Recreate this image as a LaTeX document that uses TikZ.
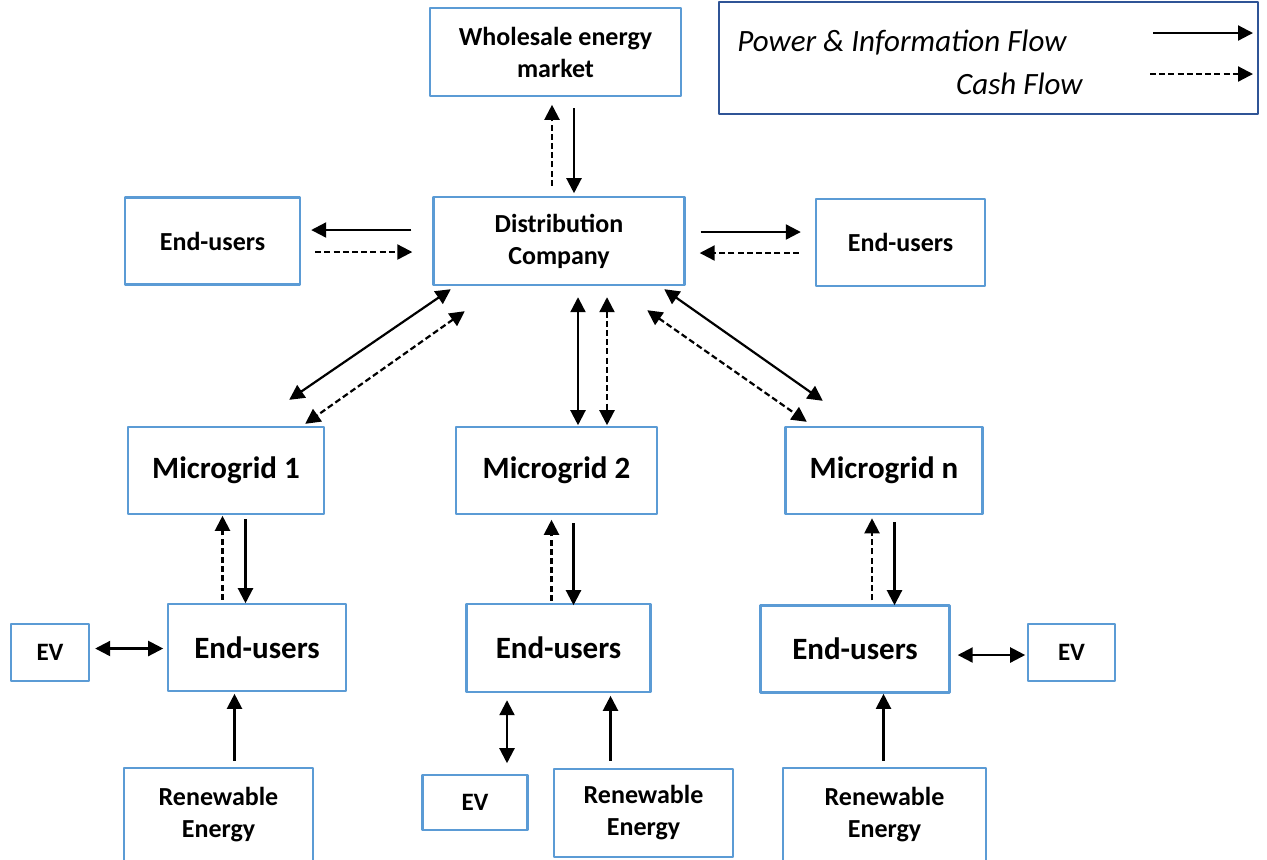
\documentclass[tikz,border=0pt]{standalone}
\usepackage{fontspec}
\setmainfont{Carlito}
\usetikzlibrary{arrows.meta,calc}
\definecolor{boxblue}{RGB}{91,155,213}
\definecolor{legblue}{RGB}{47,84,150}
\begin{document}
\begin{tikzpicture}[x=0.5pt, y=-0.5pt, line join=round, >={Triangle[length=7.5pt,width=7.5pt]},
	box/.style={draw=boxblue, line width=1.2pt, fill=white, align=center, inner sep=0pt, font=\bfseries\fontsize{13}{16}\selectfont},
	bigbox/.style={box, font=\bfseries\fontsize{15.5}{18.6}\selectfont},
	evbox/.style={box, font=\bfseries\fontsize{12.5}{15}\selectfont},
	legtext/.style={inner sep=0pt, font=\itshape\fontsize{15.5}{18.6}\selectfont},
	flow/.style={line width=1.1pt},
	cash/.style={line width=1.1pt, dash pattern=on 3pt off 1.6pt}]
	\useasboundingbox (0,0) rectangle (1267,859);
	% top row
	\node[box, minimum width=125.5pt, minimum height=44pt] (wm) at (555.5,52) {Wholesale energy\\market};
	\node[box, minimum width=125.5pt, minimum height=44pt] (dist) at (559,241) {Distribution\\Company};
	\node[box, minimum width=87.5pt, minimum height=43.5pt] (eua) at (212.5,241) {End-users};
	\node[box, minimum width=84.5pt, minimum height=43.5pt] (eub) at (900.5,242.5) {End-users};
	% legend
	\node[draw=legblue, line width=1pt, minimum width=269.5pt, minimum height=56pt] (lg) at (988.5,58) {};
	\node[legtext, anchor=west] (pif) at (737,43) {Power \& Information Flow};
	\node[legtext, anchor=east] (cf) at (1083,84) {Cash Flow};
	\path (1153,33) coordinate (s1)
		(1253,33) coordinate (s2)
		(1150,74) coordinate (d1)
		(1253,74) coordinate (d2);
	\draw[flow,->] (s1)--(s2);
	\draw[cash,->] (d1)--(d2);
	% microgrids
	\node[bigbox, minimum width=98pt, minimum height=43.5pt] (mg1) at (226,470.5) {Microgrid 1};
	\node[bigbox, minimum width=100.5pt, minimum height=43.5pt] (mg2) at (556.5,470.5) {Microgrid 2};
	\node[bigbox, minimum width=98.5pt, minimum height=43.5pt] (mgn) at (884,470.5) {Microgrid n};
	% end-users, EVs and renewables
	\node[bigbox, minimum width=89pt, minimum height=43.5pt] (eu1) at (257,647.5) {End-users};
	\node[bigbox, minimum width=92pt, minimum height=44pt] (eu2) at (558.5,648) {End-users};
	\node[bigbox, minimum width=94.5pt, minimum height=43.5pt] (eun) at (855,649) {End-users};
	\node[evbox, minimum width=39pt, minimum height=28.5pt] (ev1) at (50,652.5) {EV};
	\node[evbox, minimum width=52.5pt, minimum height=27.5pt] (ev2) at (475,802.5) {EV};
	\node[evbox, minimum width=43.5pt, minimum height=28.5pt] (evn) at (1071.5,652.5) {EV};
	\node[box, minimum width=94.5pt, minimum height=47pt] (re1) at (218.5,815) {Renewable\\Energy};
	\node[box, minimum width=89.5pt, minimum height=44pt] (re2) at (643.5,813) {Renewable\\Energy};
	\node[box, minimum width=101.5pt, minimum height=47pt] (ren) at (884.5,815) {Renewable\\Energy};
	% market and company
	\draw[cash,->] ($(dist.north)+(-7,-10)$) -- ++(0,-81);
	\draw[flow,->] ($(wm.south)+(18.5,11)$) -- ++(0,85);
	\draw[flow,->] ($(dist.west)+(-21,-11)$) -- ($(eua.east)+(10,-11)$);
	\draw[cash,->] ($(eua.east)+(14,11)$) -- ($(dist.west)+(-20,11)$);
	\draw[flow,->] ($(dist.east)+(15,-9)$) -- ($(eub.west)+(-14,-10.5)$);
	\draw[cash,->] ($(eub.west)+(-16,10.5)$) -- ($(dist.east)+(14,12)$);
	% company and microgrids
	\draw[flow,<->] ($(dist.south west)+(18.5,3)$) -- ($(mg1.north east)+(-36,-26)$);
	\draw[cash,<->] ($(dist.south west)+(32.5,25)$) -- ($(mg1.north east)+(-20,-2)$);
	\draw[flow,<->] ($(dist.south)+(19,11)$) -- ++(0,128);
	\draw[cash,<->] ($(dist.south)+(48,11)$) -- ++(0,128);
	\draw[flow,<->] ($(dist.south east)+(-21.5,3)$) -- ($(mgn.north west)+(38.5,-25)$);
	\draw[cash,<->] ($(dist.south east)+(-38.5,24)$) -- ($(mgn.north west)+(22.5,-4)$);
	% microgrids and end-users
	\draw[cash,->] ($(eu1.north)+(-34.5,-3)$) -- ++(0,-84);
	\draw[flow,->] ($(mg1.south)+(19.5,4)$) -- ++(0,84);
	\draw[cash,->] ($(eu2.north)+(-7,-2)$) -- ++(0,-81);
	\draw[flow,->] ($(mg2.south)+(17,8)$) -- ++(0,82);
	\draw[cash,->] ($(eun.north)+(17,-4)$) -- ++(0,-82);
	\draw[flow,->] ($(mgn.south)+(10.5,7)$) -- ++(0,83);
	% EVs and renewables
	\draw[flow,<->] ($(ev1.east)+(5,-4)$) -- ++(68,0);
	\draw[flow,->] ($(re1.north)+(16,-6)$) -- ++(0,-67);
	\draw[flow,<->] ($(eu2.south)+(-51.5,7)$) -- ++(0,63);
	\draw[flow,->] ($(re2.north)+(-33,-7)$) -- ++(0,-65);
	\draw[flow,<->] ($(eun.east)+(7,6)$) -- ++(67.5,0);
	\draw[flow,->] ($(ren.north)+(-1,-6)$) -- ++(0,-67);
\end{tikzpicture}
\end{document}
